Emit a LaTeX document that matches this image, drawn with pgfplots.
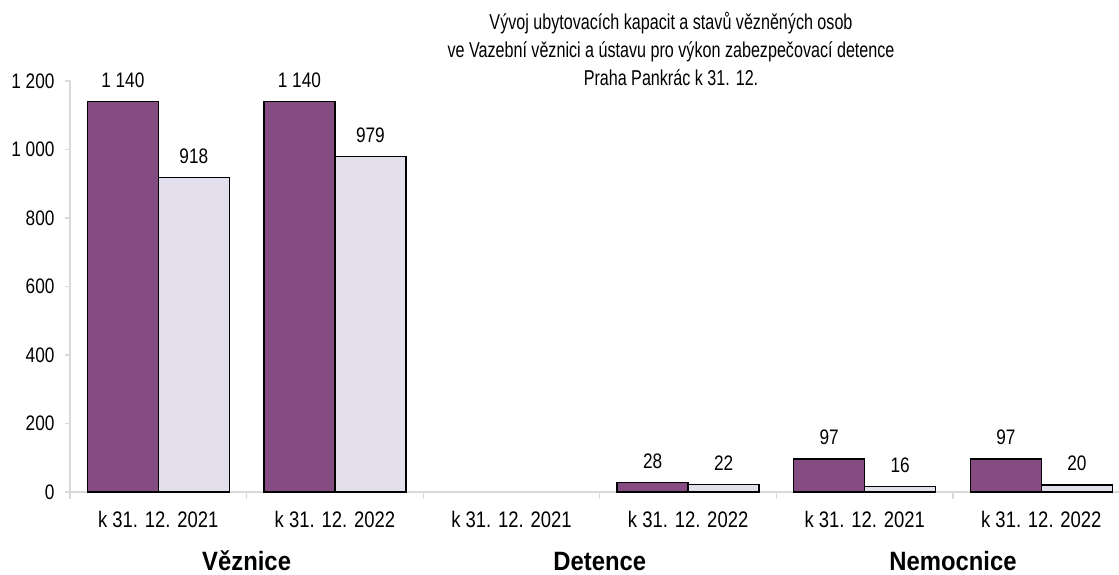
\documentclass[border=0pt]{standalone}
\usepackage{pgfplots}
\pgfplotsset{compat=1.18}
\usepackage{fontspec}
\setmainfont{Liberation Sans}[FakeStretch=0.82]
\newfontfamily\grpfont{Liberation Sans}[FakeStretch=0.9]
\newfontfamily\titlefont{Liberation Sans}[FakeStretch=0.75]
\definecolor{purp}{HTML}{844C80}
\definecolor{lav}{HTML}{E4DFEC}
\definecolor{axgray}{HTML}{D9D9D9}
\begin{document}
\begin{tikzpicture}
\begin{axis}[
  at={(70pt,83pt)}, anchor=south west,
  width=1049pt, height=411pt, scale only axis,
  xmin=-0.5, xmax=5.44, ymin=0, ymax=1200,
  clip=false,
  ybar=0pt, bar width=71pt,
  axis x line*=bottom, axis y line*=left,
  axis line style={-, draw=axgray, line width=1.3pt},
  ytick={0,200,...,1200},
  xtick={0,...,5},
  xticklabels={k 31. 12. 2021, k 31. 12. 2022, k 31. 12. 2021, k 31. 12. 2022, k 31. 12. 2021, k 31. 12. 2022},
  minor xtick={-0.5,0.5,...,4.5},
  tick align=outside,
  major tick length=5pt, minor tick length=7pt,
  tick style={draw=axgray, line width=1.3pt},
  major x tick style={draw=none},
  /pgf/number format/assume math mode=true,
  /pgf/number format/1000 sep={\ },
  yticklabel style={font=\fontsize{21}{21}\selectfont, xshift=-7pt},
  xticklabel style={font=\fontsize{22.5}{22.5}\selectfont, yshift=-11pt},
  nodes near coords,
  every node near coord/.append style={font=\fontsize{21}{21}\selectfont, yshift=10pt, black},
]
\addplot[fill=purp, draw=black, line width=1.5pt] coordinates {(0,1140) (1,1140) (3,28) (4,97) (5,97)};
\addplot[fill=lav, draw=black, line width=1.5pt] coordinates {(0,918) (1,979) (3,22) (4,16) (5,20)};
\node[font=\fontsize{26.5}{26.5}\selectfont\grpfont\bfseries, anchor=base] at (axis cs:0.5,0) [yshift=-79pt] {Věznice};
\node[font=\fontsize{26.5}{26.5}\selectfont\grpfont\bfseries, anchor=base] at (axis cs:2.5,0) [yshift=-79pt] {Detence};
\node[font=\fontsize{26.5}{26.5}\selectfont\grpfont\bfseries, anchor=base] at (axis cs:4.5,0) [yshift=-79pt] {Nemocnice};
\end{axis}
\node[align=center, font=\titlefont\fontsize{21.5}{28}\selectfont] at (671pt,526pt) {Vývoj ubytovacích kapacit a stavů vězněných osob\\ve Vazební věznici a ústavu pro výkon zabezpečovací detence\\Praha Pankrác k 31. 12.};
\pgfresetboundingbox
\path[use as bounding box] (0,0) rectangle (1119pt,575pt);
\end{tikzpicture}
\end{document}
